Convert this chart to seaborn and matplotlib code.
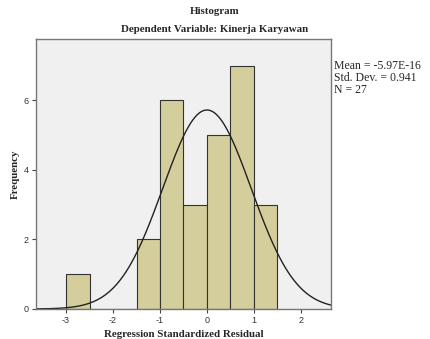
import numpy as np
import matplotlib
matplotlib.use("Agg")
import matplotlib.pyplot as plt
import seaborn as sns

# histogram bins (residual) and counts
bin_edges = [-3.0, -2.5, -2.0, -1.5, -1.0, -0.5, 0.0, 0.5, 1.0, 1.5]
counts = [1, 0, 0, 2, 6, 3, 5, 7, 3]
mean_val = -5.97e-16
std_val = 0.941
n_obs = 27
x_ticks = [-3, -2, -1, 0, 1, 2]
y_ticks = [0, 2, 4, 6]

sns.set_style("white")
plt.rcParams['font.family'] = ['Liberation Serif', 'DejaVu Serif']
plt.rcParams['axes.unicode_minus'] = False

fig = plt.figure(figsize=(4.30, 3.39), dpi=100)
ax = fig.add_axes([0.0837, 0.0885, 0.686, 0.796])
ax.set_facecolor("#F0F0F0")

mids = [(bin_edges[i] + bin_edges[i + 1]) / 2 for i in range(len(counts))]
sns.histplot(x=mids, weights=counts, bins=bin_edges, ax=ax,
             color="#D3CE9B", alpha=1, edgecolor="#333333", linewidth=0.8)

# fitted normal curve
xs = np.linspace(-3.64, 2.64, 300)
ys = n_obs * 0.5 * np.exp(-0.5 * ((xs - mean_val) / std_val) ** 2) / (std_val * np.sqrt(2 * np.pi))
sns.lineplot(x=xs, y=ys, ax=ax, color="#222222", linewidth=1.0)

ax.set_xlim(-3.64, 2.64)
ax.set_ylim(0, 7.76)
ax.set_xticks(x_ticks)
ax.set_yticks(y_ticks)
ax.tick_params(axis="both", direction="out", length=3, width=0.8, color="#444444",
               labelsize=6.5, labelcolor="#333333", pad=2, bottom=True, left=True)
for lab in ax.get_xticklabels() + ax.get_yticklabels():
    lab.set_family(["Liberation Sans", "DejaVu Sans"])
for s in ax.spines.values():
    s.set_color("#777777")
    s.set_linewidth(1.0)

ax.set_xlabel("Regression Standardized Residual", fontsize=7.8, fontweight="bold", labelpad=4)
ax.set_ylabel("Frequency", fontsize=7.8, fontweight="bold", labelpad=3)

fig.text(0.5, 1 - 12 / 339, "Histogram", ha="center", va="center", fontsize=7.8, fontweight="bold")
fig.text(0.5, 1 - 30 / 339, "Dependent Variable: Kinerja Karyawan", ha="center", va="center",
         fontsize=7.8, fontweight="bold")

fig.text(334 / 430, 1 - 60 / 339,
         f"Mean = -5.97E-16\nStd. Dev. = {std_val}\nN = {n_obs}",
         ha="left", va="top", fontsize=8.5, linespacing=1.0)

fig.savefig("out.png", dpi=100)
